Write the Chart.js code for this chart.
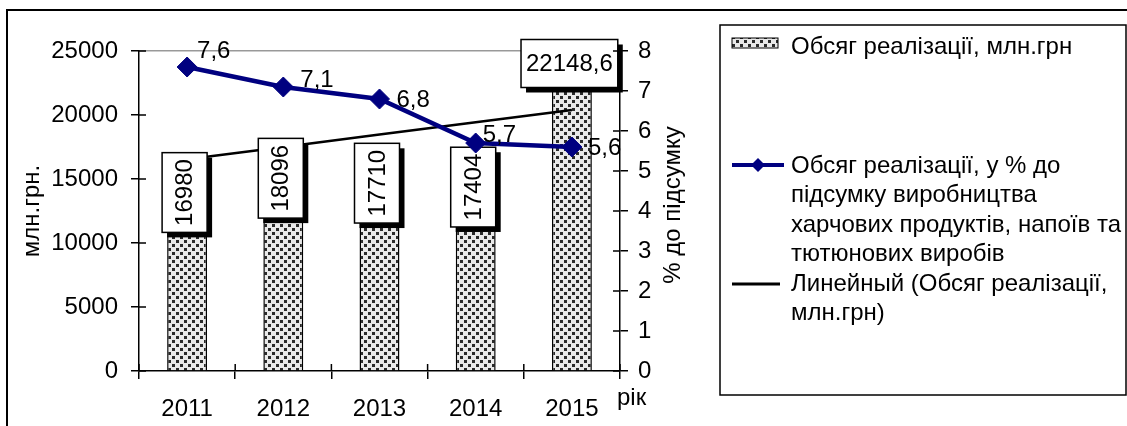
<!DOCTYPE html>
<html>
<head>
<meta charset="utf-8">
<script src="https://cdn.jsdelivr.net/npm/chart.js@4.4.0/dist/chart.umd.min.js"></script>
<style>
  html, body { margin: 0; padding: 0; background: #fff; }
  #wrap { position: relative; width: 1127px; height: 426px; }
</style>
</head>
<body>
<div id="wrap"><canvas id="salesChart" width="1127" height="426"></canvas></div>
<script>
// chart data
const years = ['2011', '2012', '2013', '2014', '2015'];
const salesVolume = [16980, 18096, 17710, 17404, 22148.6];   // млн.грн
const salesShare = [7.6, 7.1, 6.8, 5.7, 5.6];                // % до підсумку
const salesTrend = [16540, 17505, 18470, 19430, 20395];       // лінійний тренд (читано з графіка)
const leftTicks = [0, 5000, 10000, 15000, 20000, 25000];
const rightTicks = [0, 1, 2, 3, 4, 5, 6, 7, 8];

// legend text, already broken into lines as in the original
const volumeName = ['Обсяг реалізації, млн.грн'];
const shareName = ['Обсяг реалізації, у % до', 'підсумку виробництва', 'харчових продуктів, напоїв та', 'тютюнових виробів'];
const trendName = ['Линейный (Обсяг реалізації,', 'млн.грн)'];

const FONT = "'Liberation Sans', Arial, sans-serif";
const FS = 24;
const NAVY = '#000080';

const canvas = document.getElementById('salesChart');
const ctx = canvas.getContext('2d');

// dotted fill for the bars
function makePattern() {
  const c = document.createElement('canvas');
  c.width = 8; c.height = 8;
  const g = c.getContext('2d');
  g.fillStyle = '#e9e9e9';
  g.fillRect(0, 0, 8, 8);
  g.fillStyle = '#2a2a2a';
  g.fillRect(0, 0, 3, 3);
  g.fillRect(4, 4, 3, 3);
  return ctx.createPattern(c, 'repeat');
}
const dots = makePattern();

// label offsets for the % points (text left edge / middle, from the marker)
const shareLabelShift = [[10, -16], [17, -7], [17, 1], [7, -8], [16, 1]];

function drawValueBoxes(chart) {
  const c = chart.ctx;
  const meta = chart.getDatasetMeta(2);
  const shadow = 5;
  c.save();
  c.font = FS + 'px ' + FONT;
  meta.data.forEach((bar, i) => {
    const text = String(salesVolume[i]).replace('.', ',');
    const tw = c.measureText(text).width;
    const flat = i === salesVolume.length - 1;
    let w, h, x, y;
    if (flat) {
      w = tw + 10; h = 48;
      x = bar.x - (w + shadow) / 2; y = bar.y - h;
    } else {
      w = 45; h = tw + 13;
      x = bar.x - (w + shadow) / 2; y = bar.y - 1;
    }
    c.fillStyle = '#000';
    c.fillRect(x + shadow, y + shadow, w, h);
    c.fillStyle = '#fff';
    c.fillRect(x, y, w, h);
    c.strokeStyle = '#000';
    c.lineWidth = 1.5;
    c.strokeRect(x, y, w, h);
    c.fillStyle = '#000';
    c.textAlign = 'center';
    c.textBaseline = 'middle';
    if (flat) {
      c.fillText(text, x + w / 2, y + h / 2 + 1);
    } else {
      c.save();
      c.translate(x + w / 2 + 1, y + h / 2);
      c.rotate(-Math.PI / 2);
      c.fillText(text, 0, 0);
      c.restore();
    }
  });
  c.restore();
}

const decorPlugin = {
  id: 'decor',
  beforeDraw(chart) {
    const c = chart.ctx;
    c.save();
    c.strokeStyle = '#000';
    c.lineWidth = 2;
    c.strokeRect(7, 10, 1130, 430);
    c.restore();
  },
  afterDatasetDraw(chart, args) {
    // boxes go over the trend line but under the % line
    if (args.index === 1) drawValueBoxes(chart);
  },
  afterDraw(chart) {
    const c = chart.ctx;
    const a = chart.chartArea;
    const { x, y, y1 } = chart.scales;
    c.save();

    // tick marks that cross the axes (inner half)
    c.strokeStyle = '#000';
    c.lineWidth = 1.5;
    c.beginPath();
    y.ticks.forEach((t, i) => {
      const py = y.getPixelForTick(i);
      c.moveTo(a.left, py); c.lineTo(a.left + 7, py);
    });
    y1.ticks.forEach((t, i) => {
      const py = y1.getPixelForTick(i);
      c.moveTo(a.right, py); c.lineTo(a.right - 7, py);
    });
    for (let i = 0; i <= years.length; i++) {
      const px = x.getPixelForValue(i - 0.5);
      c.moveTo(px, a.bottom); c.lineTo(px, a.bottom - 7);
    }
    c.stroke();

    // labels of the % line
    c.font = FS + 'px ' + FONT;
    c.fillStyle = '#000';
    c.textAlign = 'left';
    c.textBaseline = 'middle';
    chart.getDatasetMeta(0).data.forEach((pt, i) => {
      const s = shareLabelShift[i];
      c.fillText(String(salesShare[i]).replace('.', ','), pt.x + s[0], pt.y + s[1]);
    });

    // axis words
    c.fillText('рік', 617, 398);
    c.save();
    c.translate(673, 205);
    c.rotate(-Math.PI / 2);
    c.textAlign = 'center';
    c.fillText('% до підсумку', 0, 0);
    c.restore();

    // legend
    c.strokeStyle = '#000';
    c.lineWidth = 1.5;
    c.strokeRect(720, 25, 406, 370);

    c.fillStyle = dots;
    c.fillRect(732, 38, 46, 10);
    c.lineWidth = 1;
    c.strokeRect(732, 38, 46, 10);
    c.fillStyle = '#000';
    volumeName.forEach((ln, k) => c.fillText(ln, 791, 47 + k * 29.5));

    c.strokeStyle = NAVY;
    c.lineWidth = 4;
    c.beginPath(); c.moveTo(732, 165); c.lineTo(784, 165); c.stroke();
    c.fillStyle = NAVY;
    c.beginPath();
    c.moveTo(758, 158); c.lineTo(765, 165); c.lineTo(758, 172); c.lineTo(751, 165);
    c.closePath(); c.fill();
    c.fillStyle = '#000';
    shareName.forEach((ln, k) => c.fillText(ln, 791, 166 + k * 29.5));

    c.strokeStyle = '#000';
    c.lineWidth = 3;
    c.beginPath(); c.moveTo(732, 284); c.lineTo(780, 284); c.stroke();
    trendName.forEach((ln, k) => c.fillText(ln, 791, 284 + k * 29.5));

    c.restore();
  }
};

new Chart(ctx, {
  type: 'bar',
  data: {
    labels: years,
    datasets: [
      {
        type: 'line',
        label: shareName.join(' '),
        data: salesShare,
        yAxisID: 'y1',
        borderColor: NAVY,
        backgroundColor: NAVY,
        borderWidth: 4.5,
        pointStyle: 'rectRot',
        pointRadius: 10,
        pointBorderWidth: 1,
        tension: 0
      },
      {
        type: 'line',
        label: trendName.join(' '),
        data: salesTrend,
        yAxisID: 'y',
        borderColor: '#000',
        borderWidth: 2.5,
        pointRadius: 0,
        tension: 0
      },
      {
        label: volumeName.join(' '),
        data: salesVolume,
        yAxisID: 'y',
        backgroundColor: dots,
        borderColor: '#000',
        borderWidth: 1.5,
        categoryPercentage: 1,
        barPercentage: 0.415
      }
    ]
  },
  options: {
    responsive: false,
    animation: false,
    layout: { padding: { top: 51, left: 0, right: 0, bottom: 0 } },
    plugins: {
      legend: { display: false },
      tooltip: { enabled: false }
    },
    scales: {
      x: {
        offset: true,
        grid: { offset: true, drawOnChartArea: false, color: '#000', tickLength: 8, lineWidth: 1.5 },
        border: { color: '#000', width: 1.5 },
        ticks: { color: '#000', font: { family: FONT, size: FS }, padding: 16, maxRotation: 0 },
        afterFit(s) { s.height = 55; }
      },
      y: {
        position: 'left',
        min: 0,
        max: 25000,
        afterBuildTicks(s) { s.ticks = leftTicks.map(v => ({ value: v })); },
        grid: {
          color: c => c.tick && c.tick.value === 25000 ? '#999' : 'rgba(0,0,0,0)',
          tickColor: '#000',
          tickLength: 8,
          lineWidth: 1.5
        },
        border: { color: '#000', width: 1.5 },
        ticks: { color: '#000', font: { family: FONT, size: FS }, padding: 13, callback: v => String(v) },
        title: { display: true, text: 'млн.грн.', color: '#000', font: { family: FONT, size: FS }, padding: { top: 18, bottom: 0 } },
        afterFit(s) { s.width = 139; }
      },
      y1: {
        position: 'right',
        min: 0,
        max: 8,
        afterBuildTicks(s) { s.ticks = rightTicks.map(v => ({ value: v })); },
        grid: { drawOnChartArea: false, color: '#000', tickLength: 8, lineWidth: 1.5 },
        border: { color: '#000', width: 1.5 },
        ticks: { color: '#000', font: { family: FONT, size: FS }, padding: 10, callback: v => String(v) },
        afterFit(s) { s.width = 507; }
      }
    }
  },
  plugins: [decorPlugin]
});
</script>
</body>
</html>
